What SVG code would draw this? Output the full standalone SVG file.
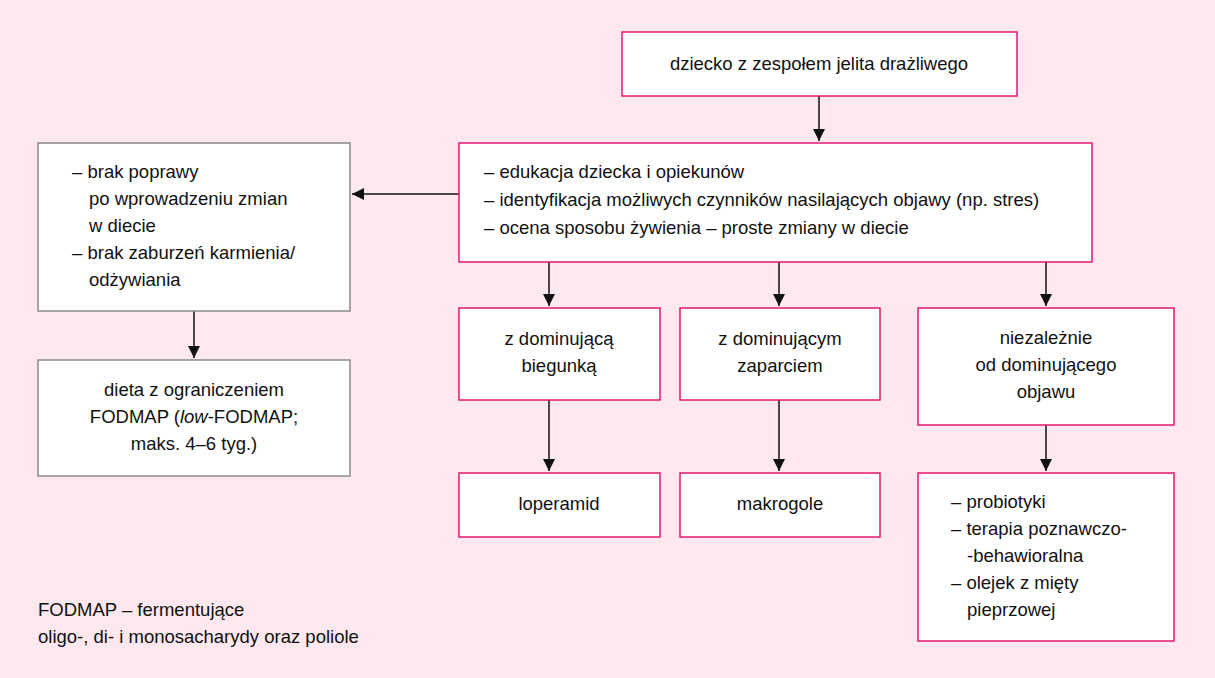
<svg xmlns="http://www.w3.org/2000/svg" width="1215" height="678" viewBox="0 0 1215 678">
<style>
text{font-family:"Liberation Sans",Arial,sans-serif;font-size:18.5px;fill:#111}
.p{fill:#fff;stroke:#e2176d;stroke-width:1.5}
.g{fill:#fff;stroke:#8a8a8a;stroke-width:1.5}
.c{text-anchor:middle}
line{stroke:#111;stroke-width:1.5;marker-end:url(#a)}
</style>
<defs><marker id="a" viewBox="0 0 10 10" refX="10" refY="5" markerWidth="12" markerHeight="12" markerUnits="userSpaceOnUse" orient="auto"><path d="M0,0L10,5L0,10z" fill="#111"/></marker></defs>
<rect width="1215" height="678" fill="#fce8ee"/>
<g id="connectors">
<line x1="819" y1="96" x2="819" y2="141"/>
<line x1="459" y1="194" x2="352" y2="194"/>
<line x1="194" y1="311" x2="194" y2="358"/>
<line x1="549" y1="262" x2="549" y2="306"/>
<line x1="779" y1="262" x2="779" y2="306"/>
<line x1="1046" y1="262" x2="1046" y2="306"/>
<line x1="549" y1="400" x2="549" y2="471"/>
<line x1="779" y1="400" x2="779" y2="471"/>
<line x1="1046" y1="425" x2="1046" y2="471"/>
</g>
<g id="n1"><rect class="p" x="622" y="32" width="395" height="64"/><text class="c" x="819" y="70">dziecko z zespołem jelita drażliwego</text></g>
<g id="n2"><rect class="p" x="459" y="143" width="633" height="119"/>
<text x="484" y="178">– edukacja dziecka i opiekunów</text>
<text x="484" y="206">– identyfikacja możliwych czynników nasilających objawy (np. stres)</text>
<text x="484" y="234">– ocena sposobu żywienia – proste zmiany w diecie</text></g>
<g id="n3"><rect class="g" x="38" y="143" width="312" height="168"/>
<text x="72" y="178">– brak poprawy</text>
<text x="89" y="205">po wprowadzeniu zmian</text>
<text x="89" y="232">w diecie</text>
<text x="72" y="259">– brak zaburzeń karmienia/</text>
<text x="89" y="286">odżywiania</text></g>
<g id="n4"><rect class="g" x="38" y="360" width="312" height="116"/>
<text class="c" x="194" y="396">dieta z ograniczeniem</text>
<text class="c" x="194" y="423">FODMAP (<tspan font-style="italic">low</tspan>-FODMAP;</text>
<text class="c" x="194" y="450">maks. 4–6 tyg.)</text></g>
<g id="n5"><rect class="p" x="459" y="308" width="201" height="92"/>
<text class="c" x="559" y="345">z dominującą</text><text class="c" x="559" y="372">biegunką</text></g>
<g id="n6"><rect class="p" x="680" y="308" width="200" height="92"/>
<text class="c" x="780" y="345">z dominującym</text><text class="c" x="780" y="372">zaparciem</text></g>
<g id="n7"><rect class="p" x="918" y="308" width="256" height="117"/>
<text class="c" x="1046" y="344">niezależnie</text><text class="c" x="1046" y="371">od dominującego</text><text class="c" x="1046" y="398">objawu</text></g>
<g id="n8"><rect class="p" x="459" y="473" width="201" height="64"/><text class="c" x="559" y="510">loperamid</text></g>
<g id="n9"><rect class="p" x="680" y="473" width="200" height="64"/><text class="c" x="780" y="510">makrogole</text></g>
<g id="n10"><rect class="p" x="918" y="473" width="256" height="168"/>
<text x="951" y="508">– probiotyki</text>
<text x="951" y="535">– terapia poznawczo-</text>
<text x="967" y="562">-behawioralna</text>
<text x="951" y="589">– olejek z mięty</text>
<text x="967" y="616">pieprzowej</text></g>
<text x="38" y="616">FODMAP – fermentujące</text>
<text x="38" y="643">oligo-, di- i monosacharydy oraz poliole</text>
</svg>
